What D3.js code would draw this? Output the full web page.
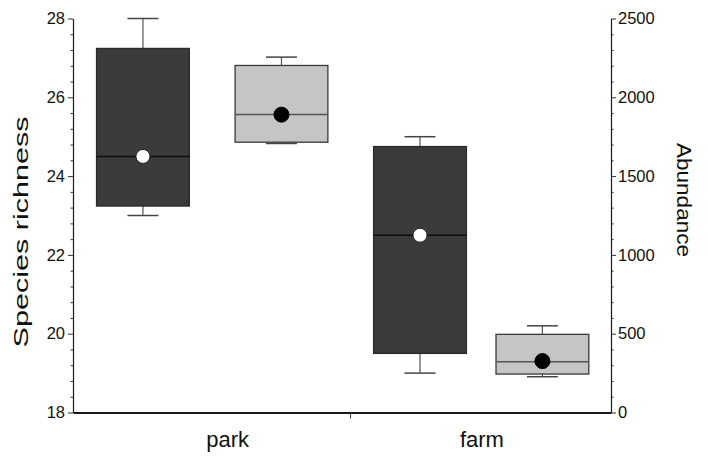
<!DOCTYPE html>
<html>
<head>
<meta charset="utf-8">
<script src="https://cdn.jsdelivr.net/npm/d3@7"></script>
<style>
  body { margin: 0; background: #fff; }
  svg text { font-family: "Liberation Sans", Arial, sans-serif; fill: #111; }
</style>
</head>
<body>
<svg id="chart" width="708" height="456"></svg>
<script>
// sites on the x axis
const sites = ["park", "farm"];
// where things sit along the x axis (axis units, 0..4)
const sitePos = [1.15, 3.04];
const dividerPos = [2.06];
const richnessPos = [0.52, 2.58];
const abundancePos = [1.55, 3.49];

// species richness boxes (left axis)
const richnessMin = [23.0, 19.0];
const richnessQ1 = [23.24, 19.5];
const richnessMedian = [24.5, 22.5];
const richnessQ3 = [27.24, 24.75];
const richnessMax = [28.0, 25.0];
const richnessMean = [24.5, 22.5];

// abundance boxes (right axis)
const abundanceMin = [1707, 227];
const abundanceQ1 = [1715, 244];
const abundanceMedian = [1891, 322];
const abundanceQ3 = [2202, 496];
const abundanceMax = [2255, 550];
const abundanceMean = [1890, 326];

// tick values
const richnessTicks = [18, 20, 22, 24, 26, 28];
const abundanceTicks = [0, 500, 1000, 1500, 2000, 2500];

const svg = d3.select("svg#chart");
const margin = { top: 18.5, right: 97, bottom: 43.5, left: 73 };
const width = 708, height = 456;
const innerWidth = width - margin.left - margin.right;
const innerHeight = height - margin.top - margin.bottom;

const g = svg.append("g").attr("transform", `translate(${margin.left},${margin.top})`);

const x = d3.scaleLinear().domain([0, 4]).range([0, innerWidth]);
const yL = d3.scaleLinear().domain([18, 28]).range([innerHeight, 0]);
const yR = d3.scaleLinear().domain([0, 2500]).range([innerHeight, 0]);

const boxW = x(0.69) - x(0);
const capW = x(0.23) - x(0);

// build one table per series so the drawing code is shared
const richness = sites.map((s, i) => ({
  pos: richnessPos[i], min: richnessMin[i], q1: richnessQ1[i], med: richnessMedian[i],
  q3: richnessQ3[i], max: richnessMax[i], mean: richnessMean[i]
}));
const abundance = sites.map((s, i) => ({
  pos: abundancePos[i], min: abundanceMin[i], q1: abundanceQ1[i], med: abundanceMedian[i],
  q3: abundanceQ3[i], max: abundanceMax[i], mean: abundanceMean[i]
}));

function drawBoxes(data, y, style) {
  const b = g.append("g").selectAll("g").data(data).enter().append("g");
  // whiskers
  b.append("line")
    .attr("x1", d => x(d.pos)).attr("x2", d => x(d.pos))
    .attr("y1", d => y(d.max)).attr("y2", d => y(d.q3))
    .attr("stroke", "#555").attr("stroke-width", 1.2);
  b.append("line")
    .attr("x1", d => x(d.pos)).attr("x2", d => x(d.pos))
    .attr("y1", d => y(d.q1)).attr("y2", d => y(d.min))
    .attr("stroke", "#555").attr("stroke-width", 1.2);
  // caps
  ["max", "min"].forEach(k => {
    b.append("line")
      .attr("x1", d => x(d.pos) - capW / 2).attr("x2", d => x(d.pos) + capW / 2)
      .attr("y1", d => y(d[k])).attr("y2", d => y(d[k]))
      .attr("stroke", "#444").attr("stroke-width", 1.5);
  });
  // box
  b.append("rect")
    .attr("x", d => x(d.pos) - boxW / 2)
    .attr("y", d => y(d.q3))
    .attr("width", boxW)
    .attr("height", d => y(d.q1) - y(d.q3))
    .attr("fill", style.fill)
    .attr("stroke", style.stroke)
    .attr("stroke-width", 1.3);
  // median
  b.append("line")
    .attr("x1", d => x(d.pos) - boxW / 2).attr("x2", d => x(d.pos) + boxW / 2)
    .attr("y1", d => y(d.med)).attr("y2", d => y(d.med))
    .attr("stroke", style.median).attr("stroke-width", 1.5);
  // mean
  b.append("circle")
    .attr("cx", d => x(d.pos)).attr("cy", d => y(d.mean))
    .attr("r", style.r)
    .attr("fill", style.dot)
    .attr("stroke", style.dotStroke).attr("stroke-width", 1);
}

drawBoxes(richness, yL, { fill: "#3b3b3b", stroke: "#2a2a2a", median: "#0d0d0d", dot: "#fff", dotStroke: "#222", r: 7 });
drawBoxes(abundance, yR, { fill: "#c5c5c5", stroke: "#3a3a3a", median: "#555", dot: "#000", dotStroke: "#000", r: 7.5 });

// left axis, minor ticks first
const minorL = d3.range(18, 28.01, 0.4).filter(v => Math.abs(v / 2 - Math.round(v / 2)) > 0.01);
g.append("g").attr("class", "axis minor")
  .call(d3.axisLeft(yL).tickValues(minorL).tickSize(2.5).tickSizeOuter(0).tickFormat(""));
g.append("g").attr("class", "axis")
  .call(d3.axisLeft(yL).tickValues(richnessTicks).tickSize(5).tickSizeOuter(0).tickPadding(3).tickFormat(d3.format("d")));

// right axis
const minorR = d3.range(0, 2501, 100).filter(v => v % 500 !== 0);
g.append("g").attr("class", "axis minor").attr("transform", `translate(${innerWidth},0)`)
  .call(d3.axisRight(yR).tickValues(minorR).tickSize(2.5).tickSizeOuter(0).tickFormat(""));
g.append("g").attr("class", "axis").attr("transform", `translate(${innerWidth},0)`)
  .call(d3.axisRight(yR).tickValues(abundanceTicks).tickSize(5).tickSizeOuter(0).tickPadding(2).tickFormat(d3.format("d")));

// bottom axis
g.append("g").attr("class", "axis bottom").attr("transform", `translate(0,${innerHeight})`)
  .call(d3.axisBottom(x).tickValues(dividerPos).tickSize(6).tickSizeOuter(0).tickFormat(""));

// empty labels of the minor / divider ticks are not needed
g.selectAll(".minor text, .bottom text").remove();

g.selectAll(".axis").attr("font-size", null).attr("font-family", null);
g.selectAll(".axis path").attr("stroke", "#1a1a1a").attr("stroke-width", 1.1);
g.selectAll(".axis line").attr("stroke", "#333");
g.selectAll(".bottom path").attr("stroke-width", 1.8);
g.selectAll(".axis text").style("font-size", "16.5px").attr("fill", "#111");

// site labels
g.selectAll(".site").data(sites).enter().append("text")
  .attr("class", "site")
  .attr("x", (d, i) => x(sitePos[i]))
  .attr("y", innerHeight + 34.5)
  .attr("text-anchor", "middle")
  .style("font-size", "22px")
  .text(d => d);

// axis titles
svg.append("text")
  .attr("transform", "translate(28,232) rotate(-90)")
  .attr("text-anchor", "middle")
  .attr("textLength", 231)
  .attr("lengthAdjust", "spacingAndGlyphs")
  .style("font-size", "21px")
  .text("Species richness");

svg.append("text")
  .attr("transform", "translate(677,200) rotate(90)")
  .attr("text-anchor", "middle")
  .attr("textLength", 114)
  .attr("lengthAdjust", "spacingAndGlyphs")
  .style("font-size", "21px")
  .text("Abundance");
</script>
</body>
</html>
